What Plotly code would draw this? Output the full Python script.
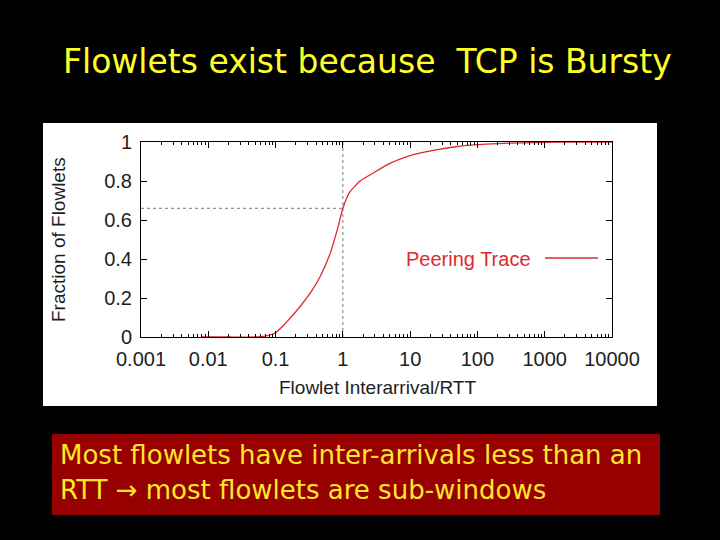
import plotly.graph_objects as go

# ---- data ----
interarrival = [0.008, 0.02, 0.05, 0.07, 0.1, 0.14, 0.23, 0.35, 0.46, 0.65, 0.85, 1.0,
                1.25, 1.8, 2.8, 5, 9, 15, 28, 50, 90, 200, 500, 1000, 3000, 10000]
fraction = [0.0, 0.0, 0.0, 0.005, 0.022, 0.07, 0.155, 0.24, 0.31, 0.43, 0.566, 0.66,
            0.74, 0.80, 0.84, 0.89, 0.925, 0.945, 0.963, 0.977, 0.985, 0.992, 0.996,
            0.998, 1.0, 1.0]
ref_x = 1.0
ref_y = 0.66
x_ticks = [0.001, 0.01, 0.1, 1, 10, 100, 1000, 10000]
x_tick_labels = ["0.001", "0.01", "0.1", "1", "10", "100", "1000", "10000"]
y_ticks = [0, 0.2, 0.4, 0.6, 0.8, 1]
y_tick_labels = ["0", "0.2", "0.4", "0.6", "0.8", "1"]
series_name = "Peering Trace"
title_text = "Flowlets exist because  TCP is Bursty"
note_lines = ["Most flowlets have inter-arrivals less than an",
              "RTT \u2192 most flowlets are sub-windows"]

minor_x = [m * 10 ** e for e in range(-3, 4) for m in range(2, 10)]

RED = "rgb(222,40,48)"
GREY = "rgb(120,120,120)"
INK = "rgb(30,30,30)"
SANS = "Liberation Sans, Arial, sans-serif"
COMIC = "DejaVu Sans, sans-serif"

# plot area in pixels
L, R, T, B = 141, 612, 142, 337
W, H = 720, 540
def px(x):
    return (x - L) / (R - L)
def py(y):
    return (B - y) / (B - T)

fig = go.Figure()
fig.add_trace(go.Scatter(x=[ref_x, ref_x], y=[0, 1], mode="lines",
                         line=dict(color=GREY, width=1, dash="dot"),
                         showlegend=False, hoverinfo="skip"))
fig.add_trace(go.Scatter(x=[x_ticks[0], ref_x], y=[ref_y, ref_y], mode="lines",
                         line=dict(color=GREY, width=1, dash="dot"),
                         showlegend=False, hoverinfo="skip"))
fig.add_trace(go.Scatter(x=interarrival, y=fraction, mode="lines", name=series_name,
                         line=dict(color=RED, width=1.3, shape="spline", smoothing=0.6),
                         showlegend=False))

shapes = [
    dict(type="rect", xref="paper", yref="paper", x0=px(43), x1=px(657), y0=py(406), y1=py(123),
         fillcolor="white", line=dict(width=0), layer="below"),
    dict(type="rect", xref="paper", yref="paper", x0=px(52), x1=px(660), y0=py(515), y1=py(434),
         fillcolor="rgb(150,0,0)", line=dict(width=0), layer="below"),
    dict(type="line", xref="paper", yref="paper", x0=px(545), x1=px(598), y0=py(258), y1=py(258),
         line=dict(color=RED, width=1.3)),
]

annotations = [
    dict(text=title_text, xref="paper", yref="paper", x=px(367), y=py(62),
         showarrow=False, font=dict(family=COMIC, size=33, color="rgb(255,255,40)"),
         xanchor="center", yanchor="middle"),
    dict(text=series_name, xref="paper", yref="paper", x=px(533), y=py(259),
         showarrow=False, font=dict(family=SANS, size=20, color=RED),
         xanchor="right", yanchor="middle"),
    dict(text=note_lines[0], xref="paper", yref="paper", x=px(58), y=py(455),
         showarrow=False, font=dict(family=COMIC, size=26, color="rgb(255,230,40)"),
         xanchor="left", yanchor="middle"),
    dict(text=note_lines[1], xref="paper", yref="paper", x=px(58), y=py(490),
         showarrow=False, font=dict(family=COMIC, size=26, color="rgb(255,230,40)"),
         xanchor="left", yanchor="middle"),
    dict(text="Fraction of Flowlets", xref="paper", yref="paper", x=px(58), y=py(240),
         showarrow=False, textangle=-90, font=dict(family=SANS, size=19, color=INK),
         xanchor="center", yanchor="middle"),
    dict(text="Flowlet Interarrival/RTT", xref="paper", yref="paper", x=px(377), y=py(387),
         showarrow=False, font=dict(family=SANS, size=19, color=INK),
         xanchor="center", yanchor="middle"),
]

fig.update_layout(
    width=W, height=H,
    margin=dict(l=L, r=W - R, t=T, b=H - B, pad=0),
    paper_bgcolor="black", plot_bgcolor="white",
    shapes=shapes, annotations=annotations, showlegend=False,
    font=dict(family=SANS, size=20, color=INK),
)
fig.update_xaxes(type="log", range=[-3, 4], tickmode="array", tickvals=x_ticks,
                 ticktext=x_tick_labels, ticks="inside", ticklen=6, tickcolor="black",
                 showline=True, linecolor="black", linewidth=1, mirror="ticks",
                 showgrid=False, zeroline=False, ticklabelstandoff=4,
                 tickfont=dict(size=20, family=SANS, color=INK),
                 minor=dict(tickmode="array", tickvals=minor_x, ticks="inside", ticklen=3,
                            tickcolor="black", showgrid=False))
fig.update_yaxes(range=[0, 1], tickmode="array", tickvals=y_ticks, ticktext=y_tick_labels,
                 ticks="inside", ticklen=6, tickcolor="black",
                 showline=True, linecolor="black", linewidth=1, mirror="ticks",
                 showgrid=False, zeroline=False, ticklabelstandoff=4,
                 tickfont=dict(size=20, family=SANS, color=INK))

fig.write_html("out.html", config={"displayModeBar": False},
               post_script="document.body.style.margin='0';")
